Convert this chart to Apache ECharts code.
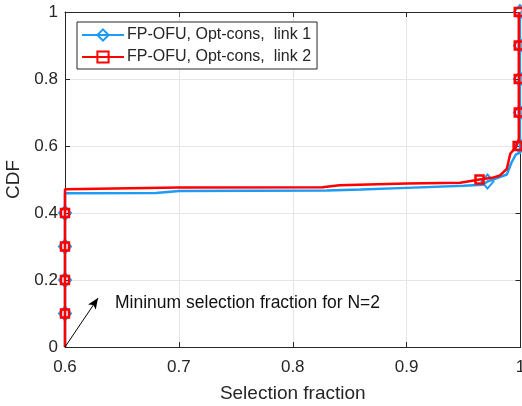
<!DOCTYPE html>
<html>
<head>
<meta charset="utf-8">
<script src="https://cdn.jsdelivr.net/npm/echarts@6/dist/echarts.min.js"></script>
<style>
  html, body { margin: 0; padding: 0; background: #fff; }
  #chart { width: 522px; height: 406px; }
</style>
</head>
<body>
<div id="chart"></div>
<script>
// Empirical CDF of the selection fraction, one curve per link
const link1X = [0.6, 0.6, 0.6, 0.6, 0.6, 0.6, 0.68, 0.70, 0.83, 0.86, 0.90, 0.95, 0.967, 0.971, 0.98, 0.988, 0.992, 0.996, 0.9995, 0.9995, 0.9995, 0.9995, 0.9995, 0.9995];
const link1Y = [0, 0.1, 0.2, 0.3, 0.4, 0.459, 0.460, 0.466, 0.467, 0.470, 0.475, 0.481, 0.484, 0.494, 0.505, 0.515, 0.55, 0.575, 0.58, 0.6, 0.7, 0.8, 0.9, 1.0];
const link1Marked = [1, 2, 3, 4, 13, 19, 20, 21, 22, 23];

const link2X = [0.6, 0.6, 0.6, 0.6, 0.6, 0.6, 0.7, 0.826, 0.841, 0.90, 0.947, 0.955, 0.964, 0.975, 0.982, 0.988, 0.991, 0.996, 0.9975, 0.9985, 0.9985, 0.9985, 0.9985, 0.9985];
const link2Y = [0, 0.1, 0.2, 0.3, 0.4, 0.471, 0.476, 0.477, 0.483, 0.488, 0.490, 0.495, 0.500, 0.505, 0.512, 0.532, 0.577, 0.597, 0.6, 0.62, 0.7, 0.8, 0.9, 1.0];
const link2Marked = [1, 2, 3, 4, 12, 18, 20, 21, 22, 23];

const seriesNames = ['FP-OFU, Opt-cons,  link 1', 'FP-OFU, Opt-cons,  link 2'];
const xTicks = [0.6, 0.7, 0.8, 0.9, 1];
const yTicks = [0, 0.2, 0.4, 0.6, 0.8, 1];
const noteText = 'Mininum selection fraction for N=2';
const arrowFrom = [0.6, 0];
const arrowTo = [0.629, 0.146];

const FONT = '"Liberation Sans", Arial, Helvetica, sans-serif';
const TEXT = '#262626';
const AXIS = '#262626';
const GRID = '#e5e5e5';
const BLUE = '#1e9bf5';
const RED = '#ff0000';

function buildData(xs, ys, marked, symbol) {
  return xs.map((x, i) => {
    const item = { value: [x, ys[i]] };
    item.symbol = marked.includes(i) ? symbol : 'none';
    return item;
  });
}

const fmt = v => String(+(+v).toFixed(2));

const chart = echarts.init(document.getElementById('chart'), null, { renderer: 'canvas' });

const tickStyle = { show: true, inside: true, length: 5, lineStyle: { color: AXIS, width: 1 } };
const lineStyleAxis = { show: true, onZero: false, lineStyle: { color: AXIS, width: 1 } };

chart.setOption({
  animation: false,
  backgroundColor: '#ffffff',
  textStyle: { fontFamily: FONT },
  grid: { left: 65, top: 12, width: 455.5, height: 335, containLabel: false, outerBoundsMode: 'none' },
  legend: {
    left: 77, top: 22,
    orient: 'vertical',
    data: seriesNames,
    backgroundColor: '#ffffff',
    borderColor: '#262626',
    borderWidth: 1,
    borderRadius: 0,
    padding: [5, 6, 4, 4],
    itemWidth: 42,
    itemHeight: 14,
    itemGap: 6,
    textStyle: { fontFamily: FONT, fontSize: 16, color: TEXT, padding: [0, 0, 0, -2] }
  },
  xAxis: [{
    type: 'value', min: 0.6, max: 1, interval: 0.1,
    axisLine: lineStyleAxis, axisTick: tickStyle,
    axisLabel: { formatter: fmt, fontSize: 17, color: TEXT, margin: 12, fontFamily: FONT, showMaxLabel: true },
    splitLine: { show: true, lineStyle: { color: GRID, width: 1 } },
    name: 'Selection fraction', nameLocation: 'middle', nameGap: 37,
    nameTextStyle: { fontSize: 19, color: TEXT, fontFamily: FONT }
  }, {
    type: 'value', position: 'top', min: 0.6, max: 1, interval: 0.1,
    axisLine: lineStyleAxis, axisTick: tickStyle,
    axisLabel: { show: false }, splitLine: { show: false }
  }],
  yAxis: [{
    type: 'value', min: 0, max: 1, interval: 0.2,
    axisLine: lineStyleAxis, axisTick: tickStyle,
    axisLabel: { formatter: fmt, fontSize: 17, color: TEXT, margin: 7, fontFamily: FONT },
    splitLine: { show: true, lineStyle: { color: GRID, width: 1 } },
    name: 'CDF', nameLocation: 'middle', nameGap: 39, nameRotate: 90,
    nameTextStyle: { fontSize: 19, color: TEXT, fontFamily: FONT }
  }, {
    type: 'value', position: 'right', min: 0, max: 1, interval: 0.2,
    axisLine: lineStyleAxis, axisTick: tickStyle,
    axisLabel: { show: false }, splitLine: { show: false }
  }],
  series: [{
    name: seriesNames[0],
    type: 'line',
    data: buildData(link1X, link1Y, link1Marked, 'diamond'),
    symbol: 'diamond',
    symbolSize: [12, 14],
    showSymbol: true,
    showAllSymbol: true,
    lineStyle: { color: BLUE, width: 2.5 },
    itemStyle: { color: 'rgba(255,255,255,0)', borderColor: BLUE, borderWidth: 2, opacity: 1 },
    z: 3
  }, {
    name: seriesNames[1],
    type: 'line',
    data: buildData(link2X, link2Y, link2Marked, 'rect'),
    symbol: 'rect',
    symbolSize: 8,
    showSymbol: true,
    showAllSymbol: true,
    lineStyle: { color: RED, width: 2.5 },
    itemStyle: { color: 'rgba(255,255,255,0)', borderColor: RED, borderWidth: 2.5, opacity: 1 },
    z: 4,
    markLine: {
      silent: true,
      symbol: ['none', 'arrow'],
      symbolSize: [7, 11],
      label: { show: false },
      lineStyle: { color: '#000000', width: 1, type: 'solid' },
      data: [[{ coord: arrowFrom }, { coord: arrowTo }]]
    }
  }]
});

// Annotation text next to the arrow, placed from the arrow head
const tip = chart.convertToPixel({ gridIndex: 0 }, arrowTo);
chart.setOption({
  graphic: [{
    type: 'text',
    left: tip[0] + 17,
    top: tip[1] - 4,
    style: { text: noteText, fontSize: 17.5, fontFamily: FONT, fill: '#111111' },
    z: 10
  }]
});
</script>
</body>
</html>
